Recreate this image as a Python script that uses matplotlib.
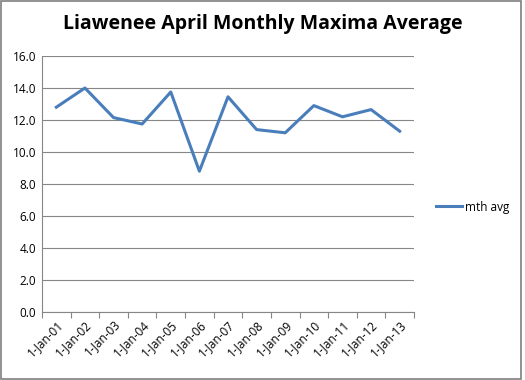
import matplotlib.pyplot as plt
from matplotlib.patches import Rectangle

dates = ['1-Jan-01', '1-Jan-02', '1-Jan-03', '1-Jan-04', '1-Jan-05', '1-Jan-06', '1-Jan-07',
         '1-Jan-08', '1-Jan-09', '1-Jan-10', '1-Jan-11', '1-Jan-12', '1-Jan-13']
mth_avg = [12.8, 14.0, 12.15, 11.75, 13.75, 8.8, 13.45, 11.4, 11.2, 12.9, 12.2, 12.65, 11.3]
y_ticks = [0, 2, 4, 6, 8, 10, 12, 14, 16]

plt.rcParams['font.family'] = ['Open Sans', 'DejaVu Sans']

fig = plt.figure(figsize=(5.25, 3.8), dpi=100)
ax = fig.add_axes([42 / 525, 1 - 312 / 380, 372 / 525, 256 / 380])

x = list(range(len(dates)))
ax.plot(x, mth_avg, color='#4A7EBB', linewidth=2.2, label='mth avg')

ax.set_xlim(-0.5, len(dates) - 0.5)
ax.set_ylim(0, 16)
ax.set_yticks(y_ticks)
ax.set_yticklabels([f'{v:.1f}' for v in y_ticks], fontsize=8.5)
ax.set_xticks([i - 0.5 for i in range(len(dates) + 1)], minor=False)
ax.set_xticklabels([])
ax.set_xticks(x, minor=True)
ax.set_xticklabels(dates, minor=True, rotation=45, ha='right', rotation_mode='anchor', fontsize=8.5)
ax.tick_params(axis='x', which='major', length=4, color='#868686', direction='out')
ax.tick_params(axis='x', which='minor', length=0, pad=4)
ax.tick_params(axis='y', length=0, pad=4)

ax.grid(axis='y', color='#868686', linewidth=0.8)
ax.set_axisbelow(True)
for s in ['top', 'right']:
    ax.spines[s].set_visible(False)
ax.spines['left'].set_color('#868686')
ax.spines['bottom'].set_color('#868686')

fig.text(0.5, 1 - 24 / 380, 'Liawenee April Monthly Maxima Average', ha='center', va='center',
         fontsize=14, fontweight='bold')

fig.legend(loc='center left', bbox_to_anchor=(425 / 525, 1 - 207 / 380), frameon=False,
           fontsize=8.5, handlelength=2.2, handletextpad=0.3)

fig.patches.append(Rectangle((0.002, 0.003), 0.99, 0.994, transform=fig.transFigure,
                             fill=False, edgecolor='#7f7f7f', linewidth=1.2))

fig.savefig('out.png', dpi=100)
